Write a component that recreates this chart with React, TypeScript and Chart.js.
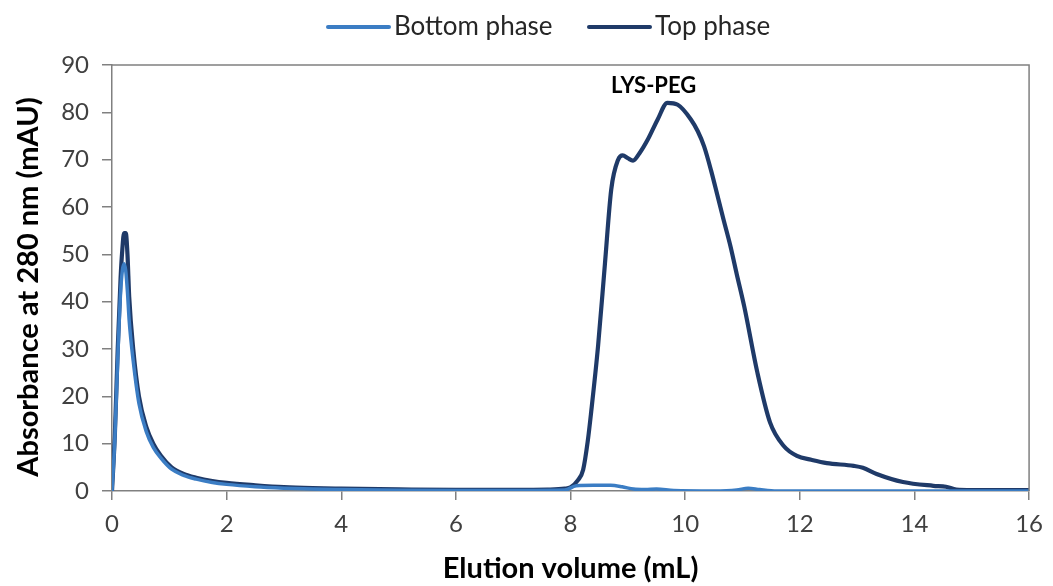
import React, { useEffect, useRef } from "react";
import { Chart, registerables } from "chart.js";

Chart.register(...registerables);

const seriesNames = ["Bottom phase", "Top phase"];
const seriesColors = ["#3B7DC4", "#1F3A68"];

const bottomX = [0, 0.05, 0.1, 0.15, 0.18, 0.21, 0.24, 0.27, 0.3, 0.37, 0.47, 0.6, 0.72, 0.85, 1.04, 1.25, 1.47, 1.75, 2, 2.5, 3, 3.5, 4, 5, 6, 7, 7.9, 8.1, 8.4, 8.7, 8.9, 9.1, 9.3, 9.5, 9.8, 10.5, 10.9, 11.1, 11.3, 11.6, 12, 16];
const bottomY = [0, 11, 28, 42, 46.5, 48, 46.5, 42, 36, 27.5, 18.5, 12.5, 9.2, 7, 4.6, 3.3, 2.5, 1.8, 1.4, 0.9, 0.6, 0.4, 0.3, 0.15, 0.1, 0.1, 0.2, 1.1, 1.2, 1.2, 0.9, 0.4, 0.3, 0.4, 0.1, 0, 0.2, 0.6, 0.3, 0, 0, 0];

const topX = [0, 0.05, 0.1, 0.15, 0.18, 0.21, 0.24, 0.27, 0.3, 0.37, 0.47, 0.6, 0.72, 0.85, 1.04, 1.25, 1.47, 1.75, 2, 2.5, 3, 3.5, 4, 5, 6, 7, 7.6, 7.9, 8.0, 8.13, 8.22, 8.3, 8.36, 8.48, 8.6, 8.71, 8.83, 8.91, 9.0, 9.09, 9.2, 9.35, 9.52, 9.69, 9.87, 10.1, 10.22, 10.33, 10.45, 10.56, 10.67, 10.79, 10.9, 11.03, 11.26, 11.48, 11.72, 11.95, 12.2, 12.47, 12.94, 13.1, 13.34, 13.8, 14.33, 14.55, 14.73, 15, 16];
const topY = [0, 12, 30, 45, 51, 54.5, 54.5, 50, 41, 30, 20, 13.5, 10, 7.5, 5, 3.6, 2.8, 2.1, 1.7, 1.2, 0.8, 0.6, 0.5, 0.35, 0.25, 0.25, 0.3, 0.5, 0.8, 2.3, 4.5, 10.5, 16.7, 30.6, 48, 63.7, 70, 70.9, 70.3, 69.8, 71.3, 74.3, 78.5, 82, 81.6, 78.5, 76, 72.8, 67.8, 62.6, 57.3, 51.7, 45.8, 39, 25, 14.5, 9.5, 7.4, 6.6, 5.9, 5.3, 4.9, 3.6, 1.9, 1.1, 0.9, 0.3, 0.2, 0.2];

const xAxisTitle = "Elution volume (mL)";
const yAxisTitle = "Absorbance at 280 nm (mAU)";
const peakLabel = "LYS-PEG";
const peakLabelX = 9.45;
const peakLabelY = 85.5;

const FONT = "Lato, 'Open Sans', sans-serif";

const decorPlugin = {
  id: "decor",
  afterDraw(chart: any) {
    const ctx = chart.ctx;
    const ca = chart.chartArea;
    ctx.save();
    ctx.strokeStyle = "#808080";
    ctx.lineWidth = 1.5;
    ctx.beginPath();
    ctx.moveTo(ca.left, ca.top);
    ctx.lineTo(ca.right, ca.top);
    ctx.lineTo(ca.right, ca.bottom);
    ctx.stroke();
    const xs = chart.scales.x;
    const ys = chart.scales.y;
    ctx.fillStyle = "#000";
    ctx.font = `bold 22px ${FONT}`;
    ctx.textAlign = "center";
    ctx.textBaseline = "middle";
    ctx.fillText(peakLabel, xs.getPixelForValue(peakLabelX), ys.getPixelForValue(peakLabelY));
    // y-axis title
    ctx.save();
    ctx.translate(29, (ca.top + ca.bottom) / 2 + 9);
    ctx.rotate(-Math.PI / 2);
    ctx.font = `bold 29px ${FONT}`;
    ctx.fillText(yAxisTitle, 0, 0);
    ctx.restore();
    const legendItems = [
      { x: 328, text: seriesNames[0], color: seriesColors[0] },
      { x: 589, text: seriesNames[1], color: seriesColors[1] },
    ];
    ctx.font = `26px ${FONT}`;
    ctx.textAlign = "left";
    legendItems.forEach((it) => {
      ctx.strokeStyle = it.color;
      ctx.lineWidth = 4;
      ctx.lineCap = "round";
      ctx.beginPath();
      ctx.moveTo(it.x, 27);
      ctx.lineTo(it.x + 61, 27);
      ctx.stroke();
      ctx.fillStyle = "#262626";
      ctx.fillText(it.text, it.x + 66, 27);
    });
    ctx.restore();
  },
};

export default function App() {
  const ref = useRef<HTMLCanvasElement>(null);
  useEffect(() => {
    document.body.style.margin = "0";
    const ctx = ref.current!.getContext("2d")!;
    const chart = new Chart(ctx, {
      type: "line",
      data: {
        datasets: [
          {
            label: seriesNames[0],
            data: bottomX.map((x, i) => ({ x, y: bottomY[i] })),
            borderColor: seriesColors[0],
            backgroundColor: seriesColors[0],
            borderWidth: 3.5,
            pointRadius: 0,
            cubicInterpolationMode: "monotone",
          },
          {
            label: seriesNames[1],
            data: topX.map((x, i) => ({ x, y: topY[i] })),
            borderColor: seriesColors[1],
            backgroundColor: seriesColors[1],
            borderWidth: 4.2,
            pointRadius: 0,
            cubicInterpolationMode: "monotone",
          },
        ],
      },
      options: {
        animation: false,
        responsive: false,
        maintainAspectRatio: false,
        layout: { padding: { top: 65, right: 20, left: 0, bottom: 0 } },
        plugins: { legend: { display: false }, tooltip: { enabled: false } },
        scales: {
          x: {
            type: "linear",
            min: 0,
            max: 16,
            ticks: { stepSize: 2, color: "#404040", font: { family: FONT, size: 24 }, padding: 10, maxRotation: 0 },
            grid: { display: true, drawOnChartArea: false, drawTicks: true, tickLength: 9, color: "#808080", lineWidth: 1.5 },
            border: { display: true, color: "#808080", width: 1.5 },
            title: { display: true, text: xAxisTitle, color: "#000", font: { family: FONT, size: 29, weight: "bold" }, padding: { top: 0, bottom: 0 } },
            afterFit: (s: any) => { s.height = 95; },
          },
          y: {
            min: 0,
            max: 90,
            ticks: { stepSize: 10, color: "#404040", font: { family: FONT, size: 24 }, padding: 13 },
            grid: { display: true, drawOnChartArea: false, drawTicks: true, tickLength: 10, color: "#808080", lineWidth: 1.5 },
            border: { display: true, color: "#808080", width: 1.5 },
            title: { display: false, text: yAxisTitle },
            afterFit: (s: any) => { s.width = 112; },
          },
        },
      } as any,
      plugins: [decorPlugin],
    });
    return () => chart.destroy();
  }, []);
  return (
    <div style={{ position: "fixed", left: 0, top: 0, width: 1053, height: 586, background: "#fff" }}>
      <canvas ref={ref} width={1053} height={586} style={{ width: 1053, height: 586, display: "block" }} />
    </div>
  );
}
